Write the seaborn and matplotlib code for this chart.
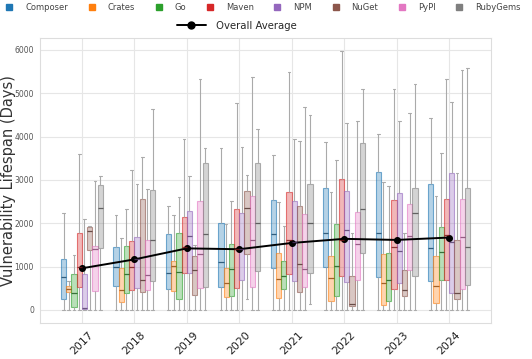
import numpy as np
import pandas as pd
import matplotlib
matplotlib.use("Agg")
import matplotlib.pyplot as plt
import seaborn as sns
from matplotlib.lines import Line2D

years = ["2017", "2018", "2019", "2020", "2021", "2022", "2023", "2024"]
ecosystems = ["Composer", "Crates", "Go", "Maven", "NPM", "NuGet", "PyPI", "RubyGems"]
colors = ["#1f77b4", "#ff7f0e", "#2ca02c", "#d62728", "#9467bd", "#8c564b", "#e377c2", "#7f7f7f"]

# rows = years, columns = ecosystems (order as above)
whis_low = [
    [0, 0, 0, 0, 0, 0, 0, 0],
    [0, 0, 0, 0, 0, 0, 0, 0],
    [0, 0, 0, 0, 0, 0, 0, 0],
    [0, 0, 0, 0, 0, 250, 0, 0],
    [0, 0, 0, 0, 0, 0, 0, 140],
    [0, 0, 0, 0, 0, 0, 0, 0],
    [0, 0, 0, 0, 0, 0, 0, 0],
    [0, 0, 0, 0, 0, 0, 0, 0],
]
q1 = [
    [250, 410, 65, 525, 25, 1390, 435, 1435],
    [550, 185, 400, 465, 510, 420, 450, 675],
    [480, 435, 240, 855, 855, 350, 510, 535],
    [520, 300, 315, 510, 680, 1280, 525, 905],
    [975, 275, 475, 835, 665, 420, 525, 855],
    [990, 210, 325, 775, 650, 95, 695, 1320],
    [760, 110, 205, 490, 625, 320, 920, 785],
    [665, 170, 685, 685, 400, 255, 480, 580],
]
median = [
    [765, 490, 390, 990, 40, 1815, 1400, 2360],
    [990, 465, 835, 990, 1180, 695, 815, 1620],
    [855, 1005, 885, 1450, 1695, 910, 1300, 1760],
    [1095, 610, 940, 1395, 1400, 2360, 1620, 2000],
    [1760, 720, 790, 1620, 1565, 1050, 940, 2000],
    [1785, 735, 1010, 1620, 1855, 125, 1510, 2335],
    [1765, 625, 695, 1460, 1350, 465, 1715, 2245],
    [1420, 550, 1335, 1735, 1560, 395, 1685, 1460],
]
q3 = [
    [1180, 540, 835, 1780, 835, 1915, 1475, 2875],
    [1460, 965, 1475, 1600, 1685, 2550, 1620, 2760],
    [1750, 1130, 1780, 2145, 2290, 1255, 2520, 3385],
    [2000, 965, 1515, 2340, 2240, 2745, 2625, 3385],
    [2545, 1320, 1120, 2720, 2505, 2390, 2220, 2915],
    [2805, 1255, 1975, 3025, 2750, 790, 2265, 3850],
    [3190, 1300, 1320, 2530, 2705, 910, 2440, 2815],
    [2915, 1235, 1905, 2560, 3170, 1610, 2555, 2805],
]
whis_high = [
    [2240, 665, 1275, 3590, 2100, 1930, 2970, 3090],
    [2200, 1660, 2320, 3220, 2915, 3520, 2790, 4635],
    [2390, 2185, 2600, 3945, 3090, 1500, 5320, 3740],
    [3740, 1985, 2520, 4785, 3765, 3120, 5370, 4165],
    [3565, 2495, 1945, 5480, 3940, 3895, 4680, 4500],
    [3870, 2730, 3455, 5975, 4310, 1785, 4360, 5105],
    [4070, 2960, 2850, 5110, 4370, 1775, 4545, 5215],
    [4440, 2625, 3630, 5340, 4790, 3150, 5545, 5595],
]
overall_avg = [960, 1165, 1420, 1400, 1545, 1640, 1615, 1670]

rows = []
for i, yr in enumerate(years):
    for j, eco in enumerate(ecosystems):
        for v in (whis_low[i][j], q1[i][j], median[i][j], q3[i][j], whis_high[i][j]):
            rows.append({"Year": yr, "Ecosystem": eco, "Days": v})
df = pd.DataFrame(rows)

sns.set_theme(style="whitegrid")
plt.rcParams["font.family"] = ["DejaVu Sans"]

fig = plt.figure(figsize=(5.32, 3.59), dpi=100)
ax = fig.add_axes([0.075, 0.10, 0.848, 0.794])

palette = dict(zip(ecosystems, colors))
sns.boxplot(data=df, x="Year", y="Days", hue="Ecosystem", order=years,
            hue_order=ecosystems, palette=palette, saturation=1, width=0.8,
            whis=(0, 100), showfliers=False, linecolor="#aaaaaa", linewidth=0.8,
            medianprops=dict(gid="median"), legend=False, ax=ax)

patches = [p for p in ax.patches]
medians = [l for l in ax.lines if l.get_gid() == "median"]
for p in patches:
    fc = p.get_facecolor()
    p.set_facecolor((fc[0], fc[1], fc[2], 0.33))
    p.set_edgecolor((fc[0], fc[1], fc[2], 0.6))
    p.set_linewidth(0.8)
for p, m in zip(patches, medians):
    fc = p.get_facecolor()
    m.set_color((fc[0] * 0.55, fc[1] * 0.55, fc[2] * 0.55, 0.8))
    m.set_linewidth(0.9)

sns.pointplot(x=years, y=overall_avg, color="black", markers="o", markersize=4,
              linewidth=1.4, errorbar=None, ax=ax)

ax.set_ylim(-305, 6275)
ax.set_xlim(-0.8, 7.8)
ax.set_yticks([0, 1000, 2000, 3000, 4000, 5000, 6000])
ax.tick_params(axis="y", labelsize=5.5, labelcolor="#555555", pad=4.3, length=0)
ax.tick_params(axis="x", labelsize=7.8, labelcolor="#222222", pad=4.5, length=0)
for lab in ax.get_xticklabels():
    lab.set_rotation(45)
    lab.set_ha("center")
ax.set_xlabel("")
ax.set_ylabel("Vulnerability Lifespan (Days)", fontsize=10.5, color="#333333")
ax.yaxis.set_label_coords(-0.054, 0.5)
ax.grid(True, color="#e6e6e6", linewidth=0.8)
for s in ax.spines.values():
    s.set_color("#dddddd")
    s.set_linewidth(0.8)

handles = [Line2D([0], [0], marker="s", linestyle="none", markersize=4.5,
                  markerfacecolor=c, markeredgecolor=c) for c in colors]
leg1 = fig.legend(handles, ecosystems, loc="center", bbox_to_anchor=(0.495, 0.98),
                  ncol=8, frameon=False, fontsize=6, handletextpad=1.5,
                  columnspacing=2.45, handlelength=0.8, borderpad=0.1)
for t in leg1.get_texts():
    t.set_color("#444444")
avg_handle = Line2D([0], [0], color="black", marker="o", markersize=5, linewidth=1.4)
fig.legend([avg_handle], ["Overall Average"], loc="center",
           bbox_to_anchor=(0.445, 0.928), frameon=False, fontsize=7.3, handlelength=2.9,
           handletextpad=1.0, borderpad=0.1)

fig.savefig("out.png", dpi=100)
